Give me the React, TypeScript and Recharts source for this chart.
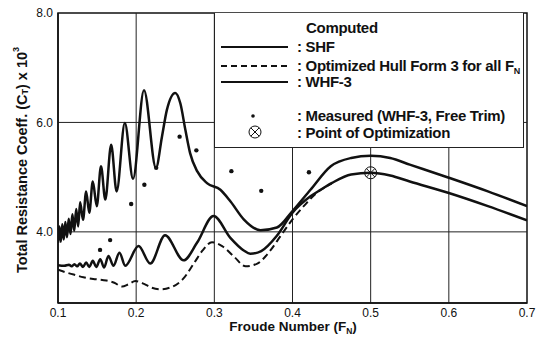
import React from "react";
import {
  ComposedChart,
  Line,
  Scatter,
  XAxis,
  YAxis,
  ReferenceLine,
  ReferenceArea,
} from "recharts";

// WHF-3 computed (upper oscillating curve)
const whfFn = [0.1, 0.1018, 0.1036, 0.1055, 0.1074, 0.1094, 0.1115, 0.1137, 0.116, 0.1184, 0.1208, 0.1233, 0.1258, 0.1283, 0.132, 0.136, 0.14, 0.1445, 0.1496, 0.155, 0.1605, 0.168, 0.175, 0.1855, 0.196, 0.21, 0.2253, 0.233, 0.2393, 0.25, 0.2565, 0.263, 0.269, 0.278, 0.2906, 0.3077, 0.3205, 0.3376, 0.359, 0.38, 0.4, 0.423, 0.449, 0.475, 0.5, 0.525, 0.55, 0.6, 0.65, 0.7];
const whfCt = [3.8, 4.1, 3.82, 4.14, 3.86, 4.18, 3.9, 4.24, 3.96, 4.32, 4.02, 4.42, 4.1, 4.54, 4.22, 4.74, 4.35, 4.92, 4.47, 5.2, 4.59, 5.59, 4.74, 5.99, 4.97, 6.59, 5.17, 5.74, 6.23, 6.54, 6.35, 5.86, 5.44, 5.11, 4.89, 4.77, 4.56, 4.23, 4.03, 4.08, 4.38, 4.77, 5.2, 5.35, 5.39, 5.35, 5.23, 4.99, 4.74, 4.47];

// SHF computed (lower solid curve)
const shfFn = [0.1, 0.108, 0.114, 0.1175, 0.121, 0.1245, 0.128, 0.132, 0.136, 0.14, 0.1445, 0.149, 0.154, 0.159, 0.1645, 0.171, 0.1786, 0.186, 0.203, 0.218, 0.237, 0.2607, 0.2778, 0.299, 0.3205, 0.3376, 0.346, 0.36, 0.38, 0.4, 0.423, 0.436, 0.45, 0.475, 0.5, 0.525, 0.55, 0.6, 0.65, 0.7];
const shfCt = [3.39, 3.38, 3.4, 3.37, 3.41, 3.37, 3.42, 3.36, 3.44, 3.36, 3.47, 3.36, 3.5, 3.35, 3.56, 3.38, 3.62, 3.38, 3.74, 3.42, 3.94, 3.48, 3.8, 4.29, 3.89, 3.66, 3.6, 3.65, 3.93, 4.35, 4.65, 4.77, 4.89, 5.05, 5.08, 5.03, 4.92, 4.71, 4.47, 4.21];

// Optimized hull form 3 for all Fn (dashed)
const optFn = [0.1, 0.11, 0.12, 0.1325, 0.145, 0.162, 0.172, 0.182, 0.19, 0.199, 0.21, 0.22, 0.231, 0.245, 0.26, 0.275, 0.285, 0.297, 0.31, 0.325, 0.34, 0.355, 0.37, 0.385, 0.4, 0.415, 0.43, 0.45];
const optCt = [3.31, 3.26, 3.22, 3.17, 3.14, 3.11, 3.07, 3.0, 3.04, 3.1, 3.05, 2.98, 2.95, 2.99, 3.14, 3.45, 3.66, 3.81, 3.74, 3.55, 3.37, 3.42, 3.63, 3.93, 4.23, 4.48, 4.7, 4.88];

// Measured (WHF-3, free trim)
const measFn = [0.1538, 0.1667, 0.1936, 0.2105, 0.2256, 0.2556, 0.277, 0.3218, 0.36, 0.421];
const measCt = [3.67, 3.85, 4.51, 4.86, 5.17, 5.74, 5.49, 5.11, 4.75, 5.09];

const optPointFn = [0.5];
const optPointCt = [5.08];

const xTicks = [0.1, 0.2, 0.3, 0.4, 0.5, 0.6, 0.7];
const yTicks = [4, 6, 8];
const gridX = [0.2, 0.3, 0.4, 0.5, 0.6];
const gridY = [4, 6];
const minorX = Array.from({ length: 61 }, (_, i) => +(0.1 + i * 0.01).toFixed(2));
const minorY = Array.from({ length: 27 }, (_, i) => +(2.8 + i * 0.2).toFixed(1));

const toPts = (fn: number[], ct: number[]) => fn.map((x, i) => ({ x, y: ct[i] }));

const whfData = toPts(whfFn, whfCt);
const shfData = toPts(shfFn, shfCt);
const optData = toPts(optFn, optCt);
const measData = toPts(measFn, measCt);
const optPointData = toPts(optPointFn, optPointCt);

const FONT = "'Liberation Sans', Arial, sans-serif";

const CrossCircle = (props: any) => {
  const { cx, cy } = props;
  const r = 6;
  const d = r * 0.7;
  return (
    <g stroke="#111" strokeWidth={1} fill="none">
      <circle cx={cx} cy={cy} r={r} />
      <line x1={cx - d} y1={cy - d} x2={cx + d} y2={cy + d} />
      <line x1={cx - d} y1={cy + d} x2={cx + d} y2={cy - d} />
    </g>
  );
};

const Dot = (props: any) => <circle cx={props.cx} cy={props.cy} r={2.2} fill="#111" />;

const LegendBox = () => (
  <div
    style={{
      position: "absolute",
      left: 214,
      top: 13,
      width: 310,
      height: 135,
      background: "#fff",
      borderLeft: "1px solid #222",
      borderBottom: "1px solid #222",
      borderRight: "1px solid #222",
      boxSizing: "border-box",
    }}
  >
    <svg width={308} height={134} style={{ display: "block" }}>
      <g fontFamily={FONT} fontWeight="bold" fontSize={15} fill="#111" letterSpacing={-0.3}>
        <text x={91} y={20}>Computed</text>
        <line x1={6} y1={34} x2={73} y2={34} stroke="#111" strokeWidth={2} />
        <text x={82} y={39}>: SHF</text>
        <line x1={6} y1={53} x2={73} y2={53} stroke="#111" strokeWidth={2} strokeDasharray="6 4" />
        <text x={82} y={58}>
          : Optimized Hull Form 3 for all F<tspan fontSize={9} dy={3}>N</tspan>
        </text>
        <line x1={6} y1={69} x2={73} y2={69} stroke="#111" strokeWidth={2} />
        <text x={82} y={74}>: WHF-3</text>
        <circle cx={38} cy={103} r={1.8} fill="#111" />
        <text x={82} y={108}>: Measured (WHF-3,  Free Trim)</text>
        <CrossCircle cx={40} cy={119} />
        <text x={82} y={124.5}>: Point of Optimization</text>
      </g>
    </svg>
  </div>
);

const YLabel = () => (
  <text
    x={22}
    y={160}
    transform="rotate(-90 22 160)"
    textAnchor="middle"
    dominantBaseline="central"
    fontFamily={FONT}
    fontWeight="bold"
    fontSize={14.5}
    fill="#111"
  >
    Total Resistance Coeff. (C<tspan fontSize={9} dy={3}>T</tspan>
    <tspan dy={-3}>) x 10</tspan>
    <tspan fontSize={9} dy={-6}>3</tspan>
  </text>
);

const XLabel = () => (
  <text x={293} y={331} textAnchor="middle" fontFamily={FONT} fontWeight="bold" fontSize={13.5} fill="#111">
    Froude Number (F<tspan fontSize={8.5} dy={3}>N</tspan>
    <tspan dy={-3}>)</tspan>
  </text>
);

export default function App() {
  return (
    <div style={{ position: "absolute", left: 0, top: 0, width: 547, height: 343, background: "#fff" }}>
      <ComposedChart
        width={547}
        height={343}
        margin={{ top: 13, right: 20, left: 0, bottom: 0 }}
        style={{ fontFamily: FONT }}
      >
        <XAxis
          xAxisId="minor"
          type="number"
          dataKey="x"
          domain={[0.1, 0.7]}
          ticks={minorX}
          tick={false}
          tickSize={3}
          mirror
          axisLine={false}
          tickLine={{ stroke: "#111" }}
          height={0}
          allowDataOverflow
        />
        <XAxis
          type="number"
          dataKey="x"
          domain={[0.1, 0.7]}
          ticks={xTicks}
          tickFormatter={(v: number) => v.toFixed(1)}
          tickLine={false}
          tickSize={0}
          tickMargin={5}
          axisLine={{ stroke: "#111", strokeWidth: 1.5 }}
          tick={{ fill: "#111", fontSize: 12 }}
          height={40}
          allowDataOverflow
          label={<XLabel />}
        />
        <YAxis
          yAxisId="minor"
          type="number"
          domain={[2.7, 8]}
          ticks={minorY}
          tick={false}
          tickSize={3}
          mirror
          axisLine={false}
          tickLine={{ stroke: "#111" }}
          width={0}
          allowDataOverflow
        />
        <YAxis
          type="number"
          domain={[2.7, 8]}
          ticks={yTicks}
          tickFormatter={(v: number) => v.toFixed(1)}
          tickLine={false}
          tickSize={0}
          tickMargin={5}
          axisLine={{ stroke: "#111", strokeWidth: 1.5 }}
          tick={{ fill: "#111", fontSize: 12 }}
          width={58}
          allowDataOverflow
          label={<YLabel />}
        />
        {gridX.map((g) => (
          <ReferenceLine key={"gx" + g} x={g} stroke="#222" strokeWidth={1} />
        ))}
        {gridY.map((g) => (
          <ReferenceLine key={"gy" + g} y={g} stroke="#222" strokeWidth={1} />
        ))}
        <ReferenceArea x1={0.1} x2={0.7} y1={2.7} y2={8} fill="none" stroke="#111" strokeWidth={1.5} />
        <Line
          data={optData}
          dataKey="y"
          type="monotone"
          stroke="#111"
          strokeWidth={2}
          strokeDasharray="7 4"
          dot={false}
          isAnimationActive={false}
        />
        <Line
          data={shfData}
          dataKey="y"
          type="monotone"
          stroke="#111"
          strokeWidth={2.5}
          dot={false}
          isAnimationActive={false}
        />
        <Line
          data={whfData}
          dataKey="y"
          type="monotone"
          stroke="#111"
          strokeWidth={2.5}
          dot={false}
          isAnimationActive={false}
        />
        <Scatter data={measData} dataKey="y" shape={<Dot />} isAnimationActive={false} />
        <Scatter data={optPointData} dataKey="y" shape={<CrossCircle />} isAnimationActive={false} />
      </ComposedChart>
      <LegendBox />
    </div>
  );
}
